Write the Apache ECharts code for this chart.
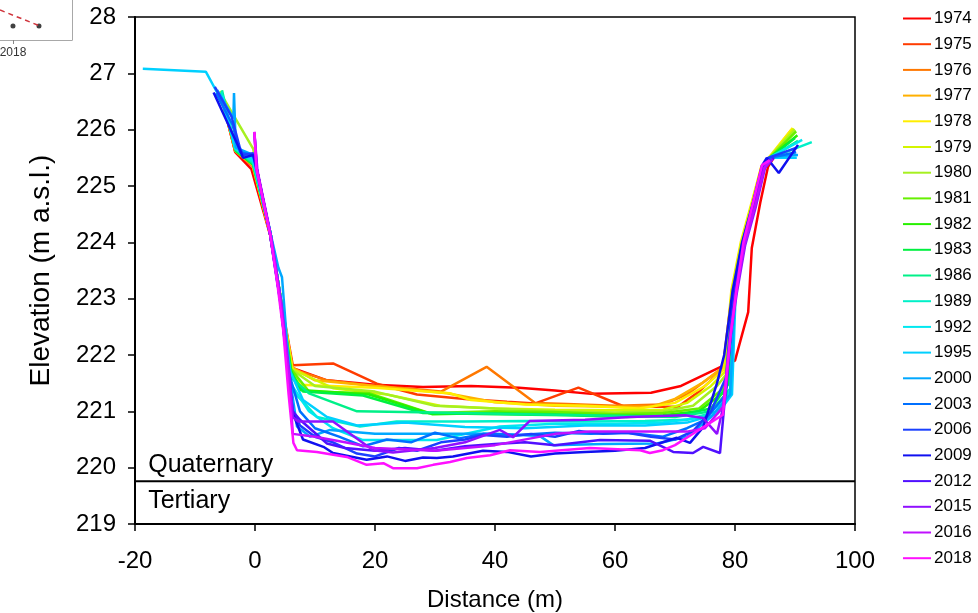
<!DOCTYPE html>
<html>
<head>
<meta charset="utf-8">
<script src="https://cdn.jsdelivr.net/npm/echarts@6.0.0/dist/echarts.min.js"></script>
<style>
  html, body { margin: 0; padding: 0; background: #fff; }
  #profile { width: 978px; height: 613px; }
</style>
</head>
<body>
<div id="profile"></div>
<script>
// survey years and their cross-section profiles [distance m, elevation m a.s.l.]
var years = ['1974', '1975', '1976', '1977', '1978', '1979', '1980', '1981', '1982', '1983', '1986',
  '1989', '1992', '1995', '2000', '2003', '2006', '2009', '2012', '2015', '2016', '2018'];

var p1974 = [[-5.6,226.6],[-3.3,225.6],[-0.6,225.3],[2.6,224.1],[4.4,222.9],[6.0,221.78],[12,221.55],[20,221.47],[28,221.43],[36,221.45],[44,221.42],[50,221.37],[56,221.31],[66,221.33],[71,221.45],[77.8,221.8],[80,221.9],[82.2,222.76],[82.8,223.9],[84.2,224.7],[85.5,225.34],[86.2,225.46],[89.3,225.92]];
var p1975 = [[-5.8,226.65],[-3.3,225.62],[-0.4,225.36],[2.5,224.15],[4.3,222.98],[6.3,221.82],[13,221.85],[20.3,221.49],[27,221.3],[35,221.22],[42,221.17],[46.7,221.14],[53.9,221.42],[61.4,221.09],[66,221.08],[70.5,221.08],[74,221.35],[78,221.75],[79.6,223.1],[81.2,223.98],[82.9,224.63],[84.5,225.32],[85.7,225.48],[89.5,225.97]];
var p1976 = [[-5.7,226.63],[-3.3,225.62],[-0.4,225.36],[2.5,224.15],[4.3,222.98],[6.3,221.75],[12,221.55],[20,221.45],[26,221.4],[31,221.35],[38.6,221.79],[46.7,221.15],[52,221.13],[60,221.1],[68,221.12],[72,221.3],[78,221.78],[79.5,223.1],[81.1,223.98],[82.8,224.65],[84.4,225.33],[85.6,225.48],[89.2,225.95]];
var p1977 = [[-5.8,226.66],[-3.2,225.62],[-0.4,225.37],[2.5,224.16],[4.3,222.99],[6.2,221.78],[10,221.55],[20,221.45],[32,221.32],[40,221.16],[50,221.1],[60,221.08],[66,221.08],[70,221.22],[74.5,221.5],[78,221.78],[79.5,223.12],[81.1,224.0],[82.8,224.66],[84.4,225.34],[85.6,225.48],[89.4,226.0]];
var p1978 = [[-5.8,226.67],[-3.2,225.63],[-0.3,225.37],[2.5,224.17],[4.3,223.0],[6.2,221.78],[7.5,221.47],[20,221.42],[32.5,221.32],[36,221.2],[45,221.12],[55,221.1],[64,221.05],[70,221.15],[75,221.45],[78.2,221.75],[79.4,223.15],[81.0,224.02],[82.7,224.68],[84.4,225.35],[85.6,225.5],[89.6,226.03]];
var p1979 = [[-5.8,226.66],[-3.1,225.64],[-0.3,225.38],[2.5,224.17],[4.3,223.0],[6.2,221.75],[13,221.41],[22,221.3],[30.8,221.1],[40,221.05],[50,221.03],[60,221.02],[68,221.03],[72,221.15],[76,221.45],[78.3,221.7],[79.5,223.15],[81.1,224.02],[82.8,224.68],[84.5,225.35],[85.7,225.5],[89.8,226.02]];
var p1980 = [[-5.9,226.68],[-0.3,225.66],[0.1,225.4],[2.5,224.18],[4.3,223.0],[6,221.75],[10,221.45],[20,221.35],[30,221.1],[40,221.05],[50,221.0],[60,220.98],[68,221.0],[73,221.1],[77,221.45],[78.5,221.65],[79.6,223.14],[81.2,224.0],[82.9,224.66],[84.5,225.35],[85.7,225.5],[90,226.0]];
var p1981 = [[-5.8,226.65],[-3.2,225.64],[-0.3,225.38],[2.6,224.16],[4.3,223.0],[6,221.75],[9,221.35],[19,221.32],[29,220.97],[40,221.0],[50,220.99],[60,220.95],[68,220.97],[74,221.05],[78,221.4],[79,221.65],[79.8,223.12],[81.3,224.0],[83,224.65],[84.6,225.35],[85.8,225.5],[90.2,225.97]];
var p1982 = [[-5.7,226.64],[-3.2,225.63],[-0.3,225.38],[2.6,224.15],[4.3,223.0],[6,221.72],[7.5,221.38],[19,221.3],[29.5,220.95],[40,220.97],[50,220.95],[60,220.92],[68,220.93],[74,221.0],[78.3,221.35],[79,221.6],[79.8,223.1],[81.3,223.98],[83,224.64],[84.6,225.34],[85.8,225.5],[90.4,225.9]];
var p1983 = [[-5.6,226.62],[-3.2,225.62],[-0.3,225.38],[2.6,224.15],[4.3,222.98],[6,221.7],[8,221.35],[18,221.28],[28,220.97],[40,220.95],[52,220.93],[62,220.9],[70,220.92],[76,221.05],[79,221.5],[79.8,223.1],[81.3,223.98],[83,224.64],[84.6,225.34],[85.8,225.5],[90.0,225.85]];
var p1986 = [[-5.5,226.7],[-3.3,225.66],[-0.3,225.4],[2.6,224.15],[4.3,222.98],[6,221.6],[9,221.32],[17,221.0],[30,220.98],[45,220.95],[60,220.92],[70,220.9],[76,221.0],[79.2,221.4],[79.9,223.1],[81.4,223.98],[83.1,224.64],[84.7,225.34],[85.9,225.5],[90.5,225.8]];
var p1989 = [[-5.6,226.68],[-3.3,225.66],[-0.3,225.42],[2.6,224.15],[4.3,222.98],[6,221.4],[10.3,220.9],[17.5,220.73],[23.6,220.82],[35,220.82],[45,220.83],[55,220.82],[65,220.83],[72,220.85],[77,221.0],[79.3,221.4],[80,223.1],[81.5,223.98],[83.2,224.64],[84.8,225.34],[86,225.5],[92.8,225.78]];
var p1992 = [[-5.4,226.6],[-3.3,225.68],[-0.3,225.45],[2.6,224.16],[4.3,222.98],[5.9,221.5],[9,221.0],[13,220.7],[18,220.49],[30.3,220.49],[40.8,220.73],[50,220.78],[60,220.78],[68,220.8],[75,220.9],[79.3,221.3],[80,223.1],[81.5,223.97],[83.2,224.62],[84.8,225.33],[86,225.52],[91.2,225.82]];
var p1995 = [[-18.7,227.08],[-8.2,227.03],[-5.5,226.5],[-3.3,225.7],[-0.3,225.5],[2.6,224.15],[4.2,222.95],[5.9,221.7],[8,221.2],[12,220.9],[17,220.75],[25,220.8],[35,220.72],[45,220.7],[55,220.75],[65,220.75],[72,220.8],[77,220.95],[79.5,221.3],[80.1,223.08],[81.6,223.96],[83.3,224.62],[84.9,225.32],[86.1,225.5],[90.3,225.5]];
var p2000 = [[-6.3,226.7],[-3.6,226.2],[-3.5,226.65],[-3.2,225.68],[-0.3,225.55],[2.5,224.2],[3.9,223.55],[4.5,223.38],[5.8,221.6],[7,220.73],[9.2,220.55],[12.5,220.67],[20,220.6],[30.3,220.6],[40,220.6],[47.5,220.56],[49.7,220.4],[58,220.42],[67,220.43],[72,220.55],[76,220.9],[79.2,221.3],[80,223.1],[81.5,223.97],[83.2,224.62],[84.8,225.33],[86,225.52],[90.5,225.55]];
var p2003 = [[-6.5,226.65],[-3.8,226.1],[-2.5,225.6],[-0.3,225.55],[2.5,224.15],[4.2,222.95],[5.6,221.7],[7.5,221.0],[10,220.7],[14,220.55],[18,220.38],[22,220.5],[26,220.45],[30,220.62],[34,220.52],[38,220.6],[44,220.58],[50,220.62],[56,220.6],[62,220.62],[68,220.55],[72,220.7],[75,220.85],[78.5,221.3],[79.8,223.1],[81.3,223.97],[83,224.62],[84.6,225.33],[85.8,225.5],[90.2,225.6]];
var p2006 = [[-6.7,226.76],[-3.9,226.23],[-2.5,225.67],[-2,225.55],[-0.3,225.58],[0.3,225.3],[2.5,224.15],[4.2,222.97],[5.6,221.65],[6.3,221.0],[7.5,220.75],[10,220.55],[13,220.45],[17,220.25],[20,220.2],[24,220.35],[27,220.3],[31,220.45],[35,220.5],[38,220.58],[42,220.55],[46,220.6],[50,220.55],[54,220.65],[58,220.6],[62,220.62],[66,220.55],[70,220.5],[73,220.65],[76,221.0],[78.5,221.6],[79.7,223.12],[81.2,223.98],[82.9,224.64],[84.5,225.34],[85.5,225.5],[90.3,225.68]];
var p2009 = [[-6.9,226.66],[-2.5,225.64],[-2,225.5],[-0.3,225.55],[0.3,225.3],[2.5,224.15],[4.2,222.98],[5.6,221.6],[6.2,221.0],[8,220.5],[11.4,220.37],[13,220.26],[18.6,220.14],[22,220.2],[25,220.12],[28,220.18],[30.3,220.17],[33,220.2],[38,220.3],[42,220.28],[46,220.2],[50,220.25],[55,220.28],[60,220.3],[65,220.35],[70.3,220.53],[72.5,220.44],[74.7,220.72],[77,221.5],[78.2,222.0],[79.6,223.14],[81.2,224.0],[82.9,224.66],[84.5,225.36],[85.3,225.5],[87.3,225.23],[90.5,225.73]];
var p2012 = [[-0.1,225.94],[0.3,225.3],[2.6,224.12],[4.3,222.95],[5.7,221.6],[6.3,221.0],[7.5,220.85],[12,220.43],[15,220.35],[20,220.3],[25,220.35],[30,220.3],[35,220.38],[40,220.42],[45,220.45],[50,220.4],[57.5,220.49],[65.8,220.48],[69.7,220.28],[73,220.26],[74.7,220.37],[77.5,220.26],[78.8,221.8],[80,223.1],[81.5,223.98],[83.2,224.64],[84.8,225.34],[86.5,225.5]];
var p2015 = [[-0.1,225.95],[0.4,225.28],[2.7,224.1],[4.4,222.92],[5.8,221.6],[6.3,220.9],[7.2,220.82],[13,220.82],[19.7,220.31],[23,220.27],[30,220.35],[35,220.45],[40.8,220.67],[43,220.54],[45.8,220.83],[55,220.85],[62.5,220.9],[71.7,220.93],[74.7,220.88],[77,220.6],[78.3,221.2],[79.2,222.3],[80.3,223.1],[81.7,223.95],[83.4,224.6],[85,225.32],[86.3,225.48]];
var p2016 = [[-0.1,225.96],[0.3,225.3],[2.6,224.12],[4.3,222.94],[5.7,221.6],[6.3,220.6],[10,220.55],[15,220.45],[20,220.35],[30,220.3],[40,220.4],[50,220.6],[55.8,220.64],[65,220.64],[72,220.64],[75,220.7],[78,221.08],[79.3,222.4],[80.2,223.12],[81.6,223.97],[83.3,224.63],[84.9,225.33],[85.8,225.45]];
var p2018 = [[-0.1,225.96],[0.2,225.32],[2.5,224.15],[3.8,223.2],[4.7,222.44],[5.6,221.3],[6.4,220.44],[7,220.31],[10.3,220.28],[15.3,220.19],[18.6,220.05],[21.4,220.08],[23,219.99],[27,219.99],[29.7,220.05],[32.5,220.1],[35.3,220.17],[39.2,220.22],[42.5,220.31],[47.5,220.28],[55.8,220.35],[64.2,220.31],[65.8,220.26],[68,220.31],[70,220.4],[78,220.94],[79.2,222.3],[80.3,223.2],[81.4,224.0],[83,224.7],[84.5,225.37],[85.8,225.46]];

var profiles = [p1974, p1975, p1976, p1977, p1978, p1979, p1980, p1981, p1982, p1983, p1986,
  p1989, p1992, p1995, p2000, p2003, p2006, p2009, p2012, p2015, p2016, p2018];

// Quaternary / Tertiary contact elevation
var contactElev = 219.76;

// y tick labels as printed (top two lost their leading digit)
var yTickValues = [219, 220, 221, 222, 223, 224, 225, 226, 227, 228];
var yTickLabels = ['219', '220', '221', '222', '223', '224', '225', '226', '27', '28'];

// the clipped neighbour panel in the corner
var insetTicks = [2018];
var insetYears = [2018, 2018.5];
var insetValues = [1.4, 1.4];
var insetTrend = [[2017.75, 3.0], [2018.52, 1.4]];

var palette = ['#ff0000', '#ff3c00', '#ff7800', '#ffb000', '#ffee00', '#d4f500', '#a6f020', '#66f000',
  '#28f000', '#00f040', '#00f088', '#00f0c8', '#00e8f0', '#00d0ff', '#00a8ff', '#0070ff',
  '#1a40ff', '#1010f0', '#5010ff', '#9010ff', '#c010ff', '#ff10ff'];

var FONT = 'Liberation Sans';

var dom_profile = document.getElementById('profile');
var chart_profile = echarts.init(dom_profile, null, { renderer: 'canvas' });

var seriesList = years.map(function (y, i) {
  return {
    name: y,
    type: 'line',
    xAxisIndex: 0,
    yAxisIndex: 0,
    data: profiles[i],
    symbol: 'none',
    showSymbol: false,
    color: palette[i],
    lineStyle: { width: 2.5, color: palette[i] },
    z: 3
  };
});

seriesList.push({
  name: 'contact',
  type: 'line',
  xAxisIndex: 0,
  yAxisIndex: 0,
  data: [[-20, contactElev], [100, contactElev]],
  symbol: 'none',
  lineStyle: { width: 2, color: '#000' },
  z: 2,
  markPoint: {
    symbol: 'rect',
    symbolSize: 0,
    label: {
      show: true,
      position: 'right',
      distance: 0,
      color: '#000',
      fontFamily: FONT,
      fontSize: 25
    },
    data: [
      { coord: [-17.8, 220.04], label: { formatter: 'Quaternary' } },
      { coord: [-17.8, 219.41], label: { formatter: 'Tertiary' } }
    ]
  }
});

// corner panel
seriesList.push({
  name: 'insetTrend',
  type: 'line',
  xAxisIndex: 1,
  yAxisIndex: 1,
  data: insetTrend,
  symbol: 'none',
  lineStyle: { width: 1.5, color: '#d0343c', type: [5, 4] }
});
seriesList.push({
  name: 'insetPts',
  type: 'scatter',
  xAxisIndex: 1,
  yAxisIndex: 1,
  data: insetYears.map(function (x, i) { return [x, insetValues[i]]; }),
  symbolSize: 5,
  itemStyle: { color: '#111' }
});

var option_profile = {
  animation: false,
  backgroundColor: '#fff',
  grid: [
    {
      left: 135, right: 123, top: 17, bottom: 89,
      outerBoundsMode: 'none',
      show: true, borderColor: '#000', borderWidth: 1.5
    },
    {
      left: 0, top: 0, width: 72, height: 40,
      outerBoundsMode: 'none',
      show: false
    }
  ],
  legend: {
    data: years,
    orient: 'vertical',
    left: 903,
    top: 10,
    padding: 0,
    itemWidth: 28,
    itemHeight: 14,
    itemGap: 8.7,
    icon: 'path://M0,6 L28,6 L28,8 L0,8 Z',
    textStyle: { fontFamily: FONT, fontSize: 17, color: '#000', lineHeight: 14, padding: [0, 0, 0, -2] }
  },
  xAxis: [
    {
      type: 'value',
      gridIndex: 0,
      min: -20,
      max: 100,
      interval: 20,
      name: 'Distance (m)',
      nameLocation: 'middle',
      nameGap: 64,
      nameTextStyle: { fontFamily: FONT, fontSize: 24, color: '#000' },
      axisLine: { onZero: false, lineStyle: { color: '#000', width: 2 } },
      axisTick: { show: true, inside: false, length: 7, lineStyle: { color: '#000', width: 1.5 } },
      axisLabel: { fontFamily: FONT, fontSize: 24, color: '#000', margin: 25 },
      splitLine: { show: false }
    },
    {
      type: 'value',
      gridIndex: 1,
      min: 2017.75,
      max: 2019.135,
      axisLine: { show: true, onZero: false, lineStyle: { color: '#a8a8a8', width: 1 } },
      axisTick: { show: true, length: 4, customValues: insetTicks, lineStyle: { color: '#888' } },
      axisLabel: {
        fontFamily: FONT, fontSize: 12, color: '#333', margin: 7, customValues: insetTicks,
        formatter: function (v) { return String(v); }
      },
      splitLine: { show: false }
    }
  ],
  yAxis: [
    {
      type: 'value',
      gridIndex: 0,
      min: 219,
      max: 228,
      interval: 1,
      name: 'Elevation (m a.s.l.)',
      nameLocation: 'middle',
      nameGap: 80,
      nameTextStyle: { fontFamily: FONT, fontSize: 28, color: '#000' },
      axisLine: { show: true, onZero: false, lineStyle: { color: '#000', width: 2 } },
      axisTick: { show: true, inside: false, length: 7, lineStyle: { color: '#000', width: 1.5 } },
      axisLabel: {
        fontFamily: FONT, fontSize: 24, color: '#000', margin: 19,
        formatter: function (v) {
          var k = yTickValues.indexOf(v);
          return k >= 0 ? yTickLabels[k] : '';
        }
      },
      splitLine: { show: false }
    },
    {
      type: 'value',
      gridIndex: 1,
      min: 0,
      max: 4,
      position: 'right',
      axisLine: { show: true, onZero: false, lineStyle: { color: '#a8a8a8', width: 1 } },
      axisTick: { show: false },
      axisLabel: { show: false },
      splitLine: { show: false }
    }
  ],
  series: seriesList
};

chart_profile.setOption(option_profile);

window.addEventListener('resize', chart_profile.resize);
</script>
</body>
</html>
